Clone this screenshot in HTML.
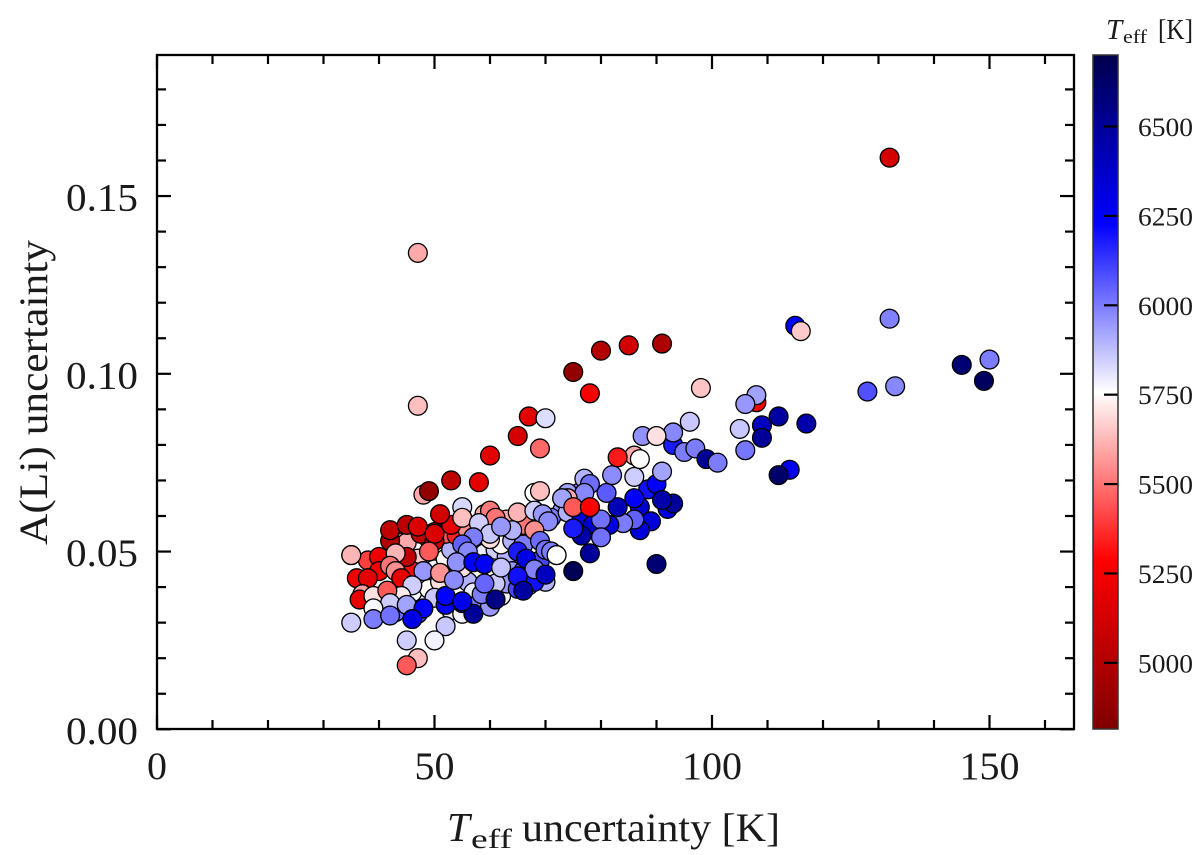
<!DOCTYPE html>
<html lang="en">
<head>
<meta charset="utf-8">
<title>A(Li) uncertainty vs Teff uncertainty</title>
<style>
  html, body { margin: 0; padding: 0; background: #fff; width: 1200px; height: 855px; overflow: hidden; }
  svg { display: block; }
  text { font-family: "Liberation Serif", serif; fill: #1a1a1a; }
</style>
</head>
<body>
<svg id="chart" xmlns="http://www.w3.org/2000/svg" width="1200" height="855" viewBox="0 0 1200 855">
  <defs>
    <linearGradient id="cbar-gradient" x1="0" y1="1" x2="0" y2="0">
      <stop offset="0" stop-color="#800000"/>
      <stop offset="0.25" stop-color="#ff0000"/>
      <stop offset="0.5" stop-color="#ffffff"/>
      <stop offset="0.75" stop-color="#0000ff"/>
      <stop offset="1" stop-color="#00004d"/>
    </linearGradient>
  </defs>
  <rect x="157" y="55" width="917" height="674" fill="#fff"/>
  <g id="points"></g>
  <g id="ticks"></g>
  <rect x="157" y="55" width="917" height="674" fill="none" stroke="#000" stroke-width="2.3"/>
  <g id="tick-labels"></g>

  <g>
    <text x="447" y="841" font-size="41" font-style="italic">T</text>
    <text x="471" y="848" font-size="27" textLength="41" lengthAdjust="spacingAndGlyphs">eff</text>
    <text x="522" y="841" font-size="40" textLength="258" lengthAdjust="spacingAndGlyphs">uncertainty [K]</text>
  </g>
  <text transform="translate(47,545) rotate(-90)" font-size="40" textLength="305" lengthAdjust="spacingAndGlyphs">A(Li) uncertainty</text>

  <rect x="1093" y="55" width="25" height="674" fill="url(#cbar-gradient)"/>
  <g id="cbar-ticks"></g>
  <rect x="1093" y="55" width="25" height="674" fill="none" stroke="#333" stroke-width="1.5"/>
  <g>
    <text x="1106" y="39" font-size="29" font-style="italic">T</text>
    <text x="1123" y="43" font-size="19" textLength="24" lengthAdjust="spacingAndGlyphs">eff</text>
    <text x="1158" y="39" font-size="28" textLength="35" lengthAdjust="spacingAndGlyphs">[K]</text>
  </g>
</svg>
<script>
const xTicksMajor = [0, 50, 100, 150];
const xTickLabels = ["0", "50", "100", "150"];
const xTicksMinor = [10, 20, 30, 40, 60, 70, 80, 90, 110, 120, 130, 140, 160];
const yTicksMajor = [0, 0.05, 0.10, 0.15];
const yTickLabels = ["0.00", "0.05", "0.10", "0.15"];
const yTicksMinor = [0.01, 0.02, 0.03, 0.04, 0.06, 0.07, 0.08, 0.09, 0.11, 0.12, 0.13, 0.14, 0.16, 0.17, 0.18];
const cbarTicks = [5000, 5250, 5500, 5750, 6000, 6250, 6500];
const cbarTickLabels = ["5000", "5250", "5500", "5750", "6000", "6250", "6500"];

const teffUncertainty = [
  44,53,55,62,70,60,48,44,51,58,
  41,43,47,48,46,49,50,52,53,47,54,56,57,58,60,59,61,63,64,62,
  64,66,66,63,67,65,68,69,51,55,52,54,50,49,56,45,46,58,60,59,
  63,66,68,71,72,73,75,76,76,71,
  35,38,36,40,40,38,37,36.5,39,42,42,45,47.5,47,50,50,49,45,43,42,
  43,44,48,51,46,44,41.5,42,39,39,35,42,45,50,48,46,52,55,52,45,
  50,47,45,52,
  53,55,55,60,61,65,69,68,69.5,70.5,68,58,60,64,62,57,55,56,54,51,
  59,53.5,61,58.5,59,65,66.5,69,70,68,70,65,66,61,57,55,57,59,62,
  71,72,73,74,75,78,74,76.5,78.5,76.5,75,78,75,90,
  88.5,90,92,93,91,87,86,89,87,86,84,83,81.5,80,80,
  77,78,77,81,74,73,75,78,82,86,83,86,87,
  87.5,91,93,93,90,95,97,99,101,96,
  105,106,108,108,112,117,109,109,106,114,112,
  47,47,35,115,116,132,150,145,149,133,128,132,
  75,80,85,91,78,98,67,70,65,69,60,58,53,48,49,51
];
const aliUncertainty = [
  .0405,.0335,.0325,.0375,.0415,.0445,.0425,.0525,.0505,.0425,
  .0335,.033,.0325,.037,.0385,.0395,.045,.048,.0505,.048,.043,.0415,.0385,.0355,.0345,.0495,.0505,.0485,.0445,.052,
  .053,.052,.0445,.041,.0405,.0395,.0415,.0475,.0415,.0455,.055,.0545,.0555,.0535,.056,.0525,.0445,.0545,.0535,.0605,
  .059,.0575,.0665,.05,.049,.0615,.0655,.062,.0665,.0595,
  .049,.0475,.0425,.0485,.0445,.0425,.038,.0365,.0375,.053,.056,.0575,.055,.057,.053,.055,.05,.0485,.0495,.046,
  .0445,.0425,.0445,.044,.0405,.0375,.039,.0355,.034,.031,.03,.032,.035,.037,.034,.031,.035,.0355,.029,.025,
  .025,.02,.018,.0375,
  .0575,.0625,.0595,.0615,.0595,.061,.067,.0615,.0605,.0585,.056,.058,.055,.056,.057,.054,.052,.05,.047,.044,
  .0465,.042,.041,.038,.041,.05,.048,.053,.0505,.045,.0435,.043,.039,.0365,.0325,.036,.047,.0465,.0455,
  .05,.049,.065,.0665,.0625,.0625,.061,.0595,.0575,.0545,.0565,.0495,.0445,.0465,
  .0675,.069,.062,.0635,.0645,.0625,.065,.0585,.056,.059,.058,.0625,.0575,.059,.054,
  .0705,.069,.0665,.0665,.065,.065,.0625,.0625,.0715,.077,.0765,.071,.076,
  .0825,.0725,.080,.0835,.0825,.078,.079,.076,.075,.0865,
  .0845,.0785,.092,.094,.088,.086,.0855,.082,.0915,.073,.0715,
  .134,.091,.049,.1135,.112,.1608,.104,.1025,.098,.0965,.095,.1155,
  .1005,.1065,.108,.1085,.0945,.096,.088,.0875,.0825,.079,.077,.0695,.07,.066,.067,.0605
];
const teffValues = [
  5760,5800,5780,5780,5900,5750,5760,5500,5750,5770,
  5800,6020,6100,5780,5770,5750,5780,5740,5900,5650,5800,5900,5800,6000,5950,5800,5850,5900,5950,5750,
  5900,6000,6100,5950,5900,6100,6200,6100,5700,5700,5450,5350,5100,5250,5550,5600,5300,5800,5700,5600,
  5600,5500,5760,5950,5760,5950,5950,6050,5990,6000,
  5620,5400,5230,5220,5250,5180,5580,5200,5700,5000,5050,5030,5050,5150,5100,5150,5450,5050,5620,5500,
  5550,5200,5950,5560,5850,5720,5450,5850,5770,6000,5850,6020,5930,5860,6230,6300,6230,6300,5860,5850,
  5780,5640,5450,6230,
  5200,5830,5640,5510,5500,5620,5640,5850,5950,5970,5550,5850,5860,5900,5950,6000,6050,5980,5960,5560,
  6260,5970,5860,6000,6040,6180,6300,6030,6020,5990,6400,6200,6480,6560,6500,6280,6230,6260,5870,
  6000,5760,5600,5930,5450,5280,5900,6300,6350,6450,6180,6500,6680,6600,
  6200,6240,6300,6500,6450,6350,6240,6330,6330,6050,6000,6420,6300,6020,6020,
  5900,6030,5980,6060,5600,5930,5450,5280,5970,5600,5330,5850,5760,
  5960,5930,6180,5980,5700,6000,6000,6500,6000,5860,
  5860,6010,5260,5930,6480,6450,6400,6500,5950,6270,6620,
  5600,5640,5620,6240,5660,5130,6000,6600,6650,5980,6080,5990,
  4880,5000,5120,4980,5260,5650,5180,5820,5130,5480,5180,5190,5040,5600,4880,5120
];

const svgNS = "http://www.w3.org/2000/svg";
const sx = v => 157 + v * 5.55;
const sy = v => 729.3 - v * 3555;
const cbarMin = 4815, cbarMax = 6700;
const sc = v => 729 - (v - cbarMin) / (cbarMax - cbarMin) * 674;

function seismicR(t) {
  const f = Math.max(0, Math.min(1, (t - cbarMin) / (cbarMax - cbarMin)));
  const stops = [[128, 0, 0], [255, 0, 0], [255, 255, 255], [0, 0, 255], [0, 0, 77]];
  const p = f * 4, i = Math.min(3, Math.floor(p)), u = p - i;
  const c = [0, 1, 2].map(k => Math.round(stops[i][k] + (stops[i + 1][k] - stops[i][k]) * u));
  return "rgb(" + c.join(",") + ")";
}

function make(tag, attrs, parent) {
  const el = document.createElementNS(svgNS, tag);
  for (const k in attrs) el.setAttribute(k, attrs[k]);
  parent.appendChild(el);
  return el;
}

const pointsG = document.getElementById("points");
const ticksG = document.getElementById("ticks");
const labelsG = document.getElementById("tick-labels");
const cbarG = document.getElementById("cbar-ticks");

teffUncertainty.forEach((x, i) => {
  const el = make("circle", { cx: sx(x), cy: sy(aliUncertainty[i]), r: 9.4, fill: seismicR(teffValues[i]), stroke: "#000", "stroke-width": 1.3 }, pointsG);
  
  
});

function tick(x1, y1, x2, y2, parent) {
  const el = make("line", { x1, y1, x2, y2, stroke: "#000", "stroke-width": 2.2 }, parent);
  
  
}

xTicksMajor.forEach(v => { tick(sx(v), 729, sx(v), 715, ticksG); tick(sx(v), 55, sx(v), 69, ticksG); });
xTicksMinor.forEach(v => { tick(sx(v), 729, sx(v), 720, ticksG); tick(sx(v), 55, sx(v), 64, ticksG); });
yTicksMajor.forEach(v => { tick(157, sy(v), 171, sy(v), ticksG); tick(1074, sy(v), 1060, sy(v), ticksG); });
yTicksMinor.forEach(v => { tick(157, sy(v), 166, sy(v), ticksG); tick(1074, sy(v), 1065, sy(v), ticksG); });
cbarTicks.forEach(v => { tick(1104, sc(v), 1118, sc(v), cbarG); });

xTicksMajor.forEach((v, i) => {
  const w = xTickLabels[i].length * 20;
  const el = make("text", { x: sx(v), y: 779, "font-size": 39, "text-anchor": "middle", textLength: w, lengthAdjust: "spacingAndGlyphs" }, labelsG);
  el.textContent = xTickLabels[i];
  
  
});
yTicksMajor.forEach((v, i) => {
  const el = make("text", { x: 66, y: sy(v) + 14.5, "font-size": 39, textLength: 72, lengthAdjust: "spacingAndGlyphs" }, labelsG);
  el.textContent = yTickLabels[i];
  
  
});
cbarTicks.forEach((v, i) => {
  const el = make("text", { x: 1138, y: sc(v) + 9.5, "font-size": 26, textLength: 55, lengthAdjust: "spacingAndGlyphs" }, labelsG);
  el.textContent = cbarTickLabels[i];
  
  
});
</script>
</body>
</html>
